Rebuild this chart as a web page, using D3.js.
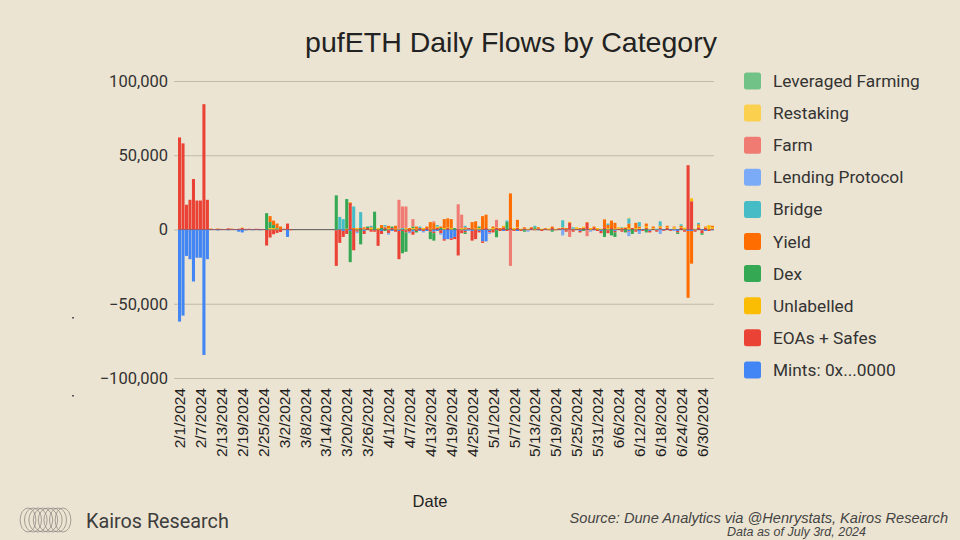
<!DOCTYPE html>
<html>
<head>
<meta charset="utf-8">
<script src="https://cdn.jsdelivr.net/npm/d3@7"></script>
<style>
  body { margin: 0; background: #ece4d2; }
  svg { display: block; }
</style>
</head>
<body>
<svg id="chart" width="960" height="540"></svg>
<script>
// daily flows, in thousands of pufETH, one line = one week starting 2/1/2024
var mints = [
  -62, -58, -17.8, -20, -35, -19, -19,
  -84.5, -20, -0.4, -0.3, -0.6, -0.3, -0.2,
  -0.5, -0.3, -0.4, -1.5, -2, -0.6, -0.3,
  -0.5, -0.3, -0.5, -0.2, -0.3, -0.4, -0.2,
  -0.3, -0.2, -0.3, -5, 0, 0, 0,
  0, 0, 0, 0, 0, 0, 0,
  0, 0, 0, -0.5, 0, -1, 0,
  -1, 0, -0.5, 0, -1, 0, 0,
  -0.5, 0, -1, 0, -0.5, -1, 0,
  -1, 0, -0.5, 0, -1.5, 0, -1,
  0, -1, 0, -1.5, -1, -0.5, -6.5,
  -6.5, -6, -5, 0, -0.5, -1, 0,
  -1, 0, -1, -8, -8, -1, 0,
  -0.5, 0, -1, 0, -0.5, 0, -1,
  0, -0.5, 0, -0.3, 0, -0.5, 0,
  -0.3, 0, -0.5, 0, -0.3, 0, -0.5,
  0, -0.5, 0, -1, 0, -0.5, 0,
  -0.5, 0, -1, 0, -0.5, 0, -1,
  0, -0.5, 0, -1, 0, -0.5, -1,
  -0.5, 0, -1, 0, -0.5, 0, -0.5,
  0, -0.5, 0, -1, 0, -0.5, -1,
  -1, -0.5, 0, -0.5, -1, 0, -0.5
];
var eoas = [
  62, 58, 16.7, 20, 34, 19.5, 19.5,
  84.4, 20, 0.5, 0.3, 0.6, 0.4, 0.3,
  0.8, 0.5, 0.3, 0.5, 1, 0.4, 0.5,
  0.3, 0.5, 0.4, 0.3, -10.5, -5, -3,
  -2, -1.5, 0.5, 4, -0.5, 0, 0,
  0, 0, 0, 0, 0, 0, 0,
  0, 0, 0, -24, -9, -4, -3,
  18, -14, -1, 1, -2, 1, -1.5,
  -1, -11, -2, 1.5, -2, 1, -1.5,
  -19, -1, -1.5, -1.5, -2, -1, 1,
  -1, 1, -1.5, -1, 1, -2, -1,
  1, -1, -1.5, -17.5, -2, -1, 1,
  -6.5, -6.5, -1, -1, 1, -1, -2,
  1, -1, 1.5, -1, 1, -1, 1,
  -1, 0.5, -0.5, 1, -0.5, 0.5, -1,
  0.5, -0.5, 1, -0.5, 0.5, 1, -1,
  4.7, -1, 0.5, -1, 1, 4.5, -0.5,
  1, -1, -1.5, 1.5, -2, 1, -1,
  0.5, -1, 1, -0.5, 1, -1, 0.5,
  -0.5, 1, -1, 0.5, -1, 1, -0.5,
  1, -0.5, 0.5, -1, 1, -1, 43.3,
  19, -1, 1.5, -2, 1, -1, 0.5
];
var unlabelled = [
  0, 0, 0, 0, 0, 0, 0,
  0, 0, 0.2, 0, 0.2, 0, 0,
  0, 0.2, 0, 0, 0.3, 0, 0,
  0, 0, 0, 0, 0, 1, 1,
  0.5, 0, 0, 0, 0, 0, 0,
  0, 0, 0, 0, 0, 0, 0,
  0, 0, 0, 0, 0, 0, 0.5,
  0.5, 0, 1, 0, 0.5, 0, 1,
  0, 1, 0, 0.5, 1, 0, 0.5,
  0.5, 0, 1, 0, 1, 0.5, 0,
  1, 0, 0.5, 0, 1, 0, 1,
  0.5, 1, 0, 0, 1, 0.5, 0,
  0, 0.5, 1, 0, 0, 0.5, 1,
  0.5, 0, 1, 0, 0, 1, 0.5,
  0.5, 0, 0.5, 0, 0.5, 0, 0.5,
  0, 0.5, 0, 0.5, 0, 0.5, 0,
  0.5, 0, 1, 0, 0.5, 0, 1,
  0, 1, 0.5, 0, 1, 0, 0.5,
  1, 0, 0.5, 1, 0, 1, 0.5,
  0, 1, 0, 0.5, 0, 1, 0,
  0.5, 0, 1, 0, 0.5, 1, 0,
  2, 0.5, 1, 0, 0.5, 3, 1
];
var dex = [
  0, 0, 0, 0, 0, 0, 0,
  0, 0, 0, 0, 0, 0, 0,
  0, 0, 0, 0, 0, 0, 0,
  0, 0, 0, 0, 11, 4, 2,
  0.5, 0, 0, 0, 0, 0, 0,
  0, 0, 0, 0, 0, 0, 0,
  0, 0, 0, 23, 0, 0, 20,
  -21, 0, 0, -10, 0, 1, 0,
  12, 0, 1, -1, 0, 1, 0,
  0, -15, -13, 0, 1, -1, 0,
  0, 0, -5, -5, 0, 1, 0,
  0, 0, 1, 0, 0, -1, 0,
  0, 0, 1, 0, 0, 0, 0,
  -4.7, 0, 0, 5, 0, 0, 0,
  0, -1, 0, 0, 1, 0, 0,
  0, 0, -1, 0, 0, 0, 0,
  0, 0, 0, 0, -1, 0, 0,
  0, 0, 0, -5, 0, -4, -3,
  0, 0, -2, 0, -3, 0, 0,
  0, -2, 0, 0, 0, 0, 0,
  0, 0, 0, -1, 0, 0, 0,
  0, 0, 0, -1, 0, 0, 0
];
var yieldFlows = [
  0, 0, 0, 0, 0, 0, 0,
  0, 0, 0, 0, 0, 0, 0,
  0, 0, 0, 0, 0, 0, 0,
  0, 0, 0, 0, 0, 4, 3,
  3, 2, 0, 0, 0, 0, 0,
  0, 0, 0, 0, 0, 0, 0,
  0, 0, 0, 0, 0, 0, 0,
  0, 1, 0, 0, 1, 0, 0.5,
  0, 0, 2, 0, 1.5, 0, 2,
  0, 0, 0, 1, 0, 1.5, 0,
  0, 1, 4.5, 4.5, 0, 1, 6,
  6, 6, 0, 0, 0, 1, 0,
  5, 5, 0, 9, 9, 0, 1,
  0, 1, 0, 0, 23.3, 0, 5,
  0, 1, 0, 0.5, 0, 1, 0,
  0.5, 0, 1, 0, 0.5, 0, 1,
  0, 0.5, 0, 1, 0, 0.5, 0,
  1, 0, 0, 5.3, 2, 5, 4,
  0, 1, 0, 3, 0, 3.5, 1,
  0, 2, 0, 1, 0, 0.5, 0,
  1, 0, 0.5, 0, 1, 0, -45,
  -22, 0, 1, 0, 0.5, 0, 1
];
var bridge = [
  0, 0, 0, 0, 0, 0, 0,
  0, 0, 0, 0, 0, 0, 0,
  0, 0, 0, 0, 0, 0, 0,
  0, 0, 0, 0, 0, 0, 0,
  0, 0, 0, 0, 0, 0, 0,
  0, 0, 0, 0, 0, 0, 0,
  0, 0, 0, 0, 8.5, 7, 0,
  0, 14.5, 0, 10.7, 0, 0, 1,
  0, 0, 0, 1, 0, 0, 0,
  0, 1, 0, 0, 0, 0, 1,
  0, 0, 0, 0, 1, 0, 0,
  0, 0, 0, 0, 0, 1, 0,
  0, 0, 0, 0, 0, 0, 0,
  0, 0, 0, 1, 0, 0, 0,
  0, 0, 0, 0, 1, 0, 0,
  0, 0, 0, 0, 0, 4.7, 0,
  0, 1, 0, 0, 0, 0, 0,
  0, 0, 0, 0, 1, 0, 0,
  0, 0, 0, 3.5, 0, 0, 3,
  0, 0, 0, 0, 0, 3, 0,
  0, 0, 0, 0, 1, 0, 0,
  0, 0, 1, 0, 0, 0, 0
];
var lending = [
  0, 0, 0, 0, 0, 0, 0,
  0, 0, 0, 0, 0, 0, 0,
  0, 0, 0, 0, 0, 0, 0,
  0, 0, 0, 0, 0, 0, 0,
  0, 0, 0, 0, 0, 0, 0,
  0, 0, 0, 0, 0, 0, 0,
  0, 0, 0, 0, 0, 0, 0,
  0, 0, -1, 0, 0, 0, 0,
  0, 0, 0, 0, -1, 0, 0,
  0, 0, 0, -1, 0, 0, 0,
  -1, 0, 0, 0, 0, -1, 0,
  0, 0, 0, 0, 0, 0, -1,
  0, 0, 0, 0, 0, -1, 0,
  0, 0, 0, 0, 0, 0, 0,
  0, 0, -1, 0, 0, 0, 0,
  0, 0, 0, 0, 0, -4, 0,
  0, 0, 0, 0, 0, 0, -1,
  0, 0, 0, 0, 0, 0, 0,
  0, 0, 0, -3, 0, 0, -2,
  0, 0, 0, 0, 0, -3, 0,
  0, 0, -1, 0, 0, 0, 0,
  0, 0, 0, 0, 0, 0, 0
];
var farm = [
  0, 0, 0, 0, 0, 0, 0,
  0, 0, 0, 0, 0, 0, 0,
  0, 0, 0, 0, 0, 0, 0,
  0, 0, 0, 0, 0, 0, 0,
  0, 0, 0, 0, 0, 0, 0,
  0, 0, 0, 0, 0, 0, 0,
  0, 0, 0, 0, 0, 0, 0,
  0, 0, 0, 0, 0, 0, 0,
  0, 0, 0, 0, 0, 0, 0,
  19.5, 14.5, 14.5, 0, 5, 0, 0,
  0, 0, 0, 1, 0, 0, 0,
  0, 0, 0, 17, 9, 0, 0,
  0, 0, 0, 0, 0, 0, 0,
  5, 0, 0, 0, -24, 0, 0,
  0, 0, 0, 0, 0, 0, 0,
  0, 0, 0, 0, 0, 0, 0,
  -5, 0, 0, 0, 0, -4, 0,
  0, 0, 0, 0, 0, 0, 0,
  0, 0, 0, 0, 0, 0, 0,
  0, 0, 0, 0, 0, 0, 0,
  0, 0, 0, 0, 0, 0, 0,
  0, 0, 0, 0, 0, 0, 0
];
var restaking = [
  0, 0, 0, 0, 0, 0, 0,
  0, 0, 0, 0, 0, 0, 0,
  0, 0, 0, 0, 0, 0, 0,
  0, 0, 0, 0, 0, 0, 0,
  0, 0, 0, 0, 0, 0, 0,
  0, 0, 0, 0, 0, 0, 0,
  0, 0, 0, 0, 0, 0, 0,
  0, 0, 0, 0, 0, 0, 0,
  0, 0, 0, 0, 0, 0, 0,
  0, 0, 0, 0, 0, 0, 0,
  0, 0, 0, 0, 0, 0, 0,
  0, 0, 0, 0, 0, 0, 0,
  0, 0, 0, 0, 0, 0, 0,
  0, 0, 0, 0, 0, 0, 0,
  0, 0, 0, 0, 0, 0, 0,
  0, 0.5, 0, 0, 0, 0, 0,
  0, 0, 0, 0, 0.5, 0, 0,
  0, 0, 0, 0, 0, 0, 0,
  0, 0, 0, 0.5, 0, 0, 0,
  0, 0, 0.5, 0, 0, 0, 0,
  0, 0, 0, 0, 0, 0.5, 0,
  0, 0, 0, 0, 0, 0, 0
];
var levFarming = [
  0, 0, 0, 0, 0, 0, 0,
  0, 0, 0, 0, 0, 0, 0,
  0, 0, 0, 0, 0, 0, 0,
  0, 0, 0, 0, 0, 0, 0,
  0, 0, 0, 0, 0, 0, 0,
  0, 0, 0, 0, 0, 0, 0,
  0, 0, 0, 0, 0, 0, 0,
  0, 0, 0, 0, 0, 0, 0,
  0, 0, 0, 0, 0, 0, 0,
  0, 0, 0, 0, 0, 0, 0,
  0, 0, 0, 0, 0, 0, 0,
  0, 0, 0, 0, 0, 0, 0,
  0, 0, 0, 0, 0, 0, 0,
  0, 0, 0, 0, 0, 0, 0,
  0, 0, 0, 0, 0, 0, 0,
  0, 0, 0, 0, 0, 0, 0,
  0, 0, 0, 0, 0, 0, 0,
  0, 0, 0, 0, 0, 0, 0,
  0, 0.5, 0, 0, 0, 0, 0,
  0, 0, 0, 0, 0.5, 0, 0,
  0, 0, 0, 0, 0, 0, 0,
  0, 0, 0, 0, 0, 0, 0
];

var categories = ["Mints: 0x...0000", "EOAs + Safes", "Unlabelled", "Dex", "Yield",
                  "Bridge", "Lending Protocol", "Farm", "Restaking", "Leveraged Farming"];
var seriesValues = [mints, eoas, unlabelled, dex, yieldFlows, bridge, lending, farm, restaking, levFarming];
var colors = ["#4285f4", "#ea4335", "#fbbc04", "#34a853", "#ff6d01",
              "#46bdc6", "#7baaf7", "#f07b72", "#fcd04f", "#71c287"];
var yTicks = [100000, 50000, 0, -50000, -100000];

var fmtDay = d3.timeFormat("%-m/%-d/%Y");
var days = d3.timeDay.range(new Date(2024, 1, 1), new Date(2024, 6, 4)).map(fmtDay);
var tickLabels = days.filter(function(d, i){ return i % 6 == 0 && i <= 150; });

var table = days.map(function(day, i){
    var row = {day: day};
    categories.forEach(function(c, j){ row[c] = seriesValues[j][i] * 1000; });
    return row;
});

var svg = d3.select("#chart");
svg.append("rect").attr("width", 960).attr("height", 540).attr("fill", "#ece4d2");

const x = d3.scaleBand()
    .domain(days)
    .range([178, 714])
    .paddingInner(0.12);

const y = d3.scaleLinear()
    .domain([-100000, 100000])
    .range([378, 81]);

const color = d3.scaleOrdinal().domain(categories).range(colors);

// title
svg.append("text")
    .attr("x", 511).attr("y", 52)
    .attr("text-anchor", "middle")
    .style("font-family", "'Liberation Sans', Arial, sans-serif")
    .style("font-size", "28.5px")
    .style("fill", "#222")
    .text("pufETH Daily Flows by Category");

// grid + y labels
const yAxis = d3.axisLeft(y)
    .tickValues(yTicks)
    .tickSize(540)
    .tickPadding(6)
    .tickFormat(d3.format(","));

svg.append("g")
    .attr("transform", "translate(714,0)")
    .call(yAxis)
    .call(function(g){
        g.select(".domain").remove();
        g.selectAll(".tick line").attr("stroke", "#c2baa8").attr("stroke-width", 1);
        g.selectAll(".tick text")
            .style("font-family", "Roboto, sans-serif")
            .style("font-size", "16.5px")
            .style("fill", "#333");
    });

// zero line
svg.append("line")
    .attr("x1", 178).attr("x2", 714)
    .attr("y1", y(0)).attr("y2", y(0))
    .attr("stroke", "#6b6b6b").attr("stroke-width", 1.2);

// stacked bars
const stack = d3.stack()
    .keys(categories)
    .offset(d3.stackOffsetDiverging);

svg.append("g")
    .selectAll("g")
    .data(stack(table))
    .enter().append("g")
    .attr("fill", function(d){ return color(d.key); })
    .selectAll("rect")
    .data(function(d){ return d; })
    .enter().append("rect")
    .attr("x", function(d){ return x(d.data.day); })
    .attr("width", x.bandwidth())
    .attr("y", function(d){ return y(Math.max(d[0], d[1])); })
    .attr("height", function(d){ return Math.abs(y(d[0]) - y(d[1])); });

// x labels
const xAxis = d3.axisBottom(x)
    .tickValues(tickLabels)
    .tickSize(0)
    .tickPadding(0);

svg.append("g")
    .attr("transform", "translate(0,388)")
    .call(xAxis)
    .call(function(g){
        g.select(".domain").remove();
        g.selectAll(".tick text")
            .attr("transform", "rotate(-90)")
            .attr("x", 0).attr("y", 0)
            .attr("dy", "0.36em")
            .attr("text-anchor", "end")
            .style("font-family", "'Liberation Sans', Arial, sans-serif")
            .style("font-size", "15.5px")
            .style("fill", "#1e1e1e");
    });

svg.append("text")
    .attr("x", 430).attr("y", 507)
    .attr("text-anchor", "middle")
    .style("font-family", "'Liberation Sans', Arial, sans-serif")
    .style("font-size", "16.5px")
    .style("fill", "#222")
    .text("Date");

// legend
const legend = svg.append("g")
    .selectAll("g")
    .data(categories.slice().reverse())
    .enter().append("g")
    .attr("transform", function(d, i){ return "translate(744," + (81 + i * 32.1) + ")"; });

legend.append("rect")
    .attr("x", 0).attr("y", -8.5)
    .attr("width", 17).attr("height", 17)
    .attr("rx", 2.5)
    .attr("fill", function(d){ return color(d); });

legend.append("text")
    .attr("x", 29).attr("y", 0)
    .attr("dy", "0.35em")
    .style("font-family", "Roboto, sans-serif")
    .style("font-size", "17.3px")
    .style("fill", "#333")
    .text(function(d){ return d; });

// stray marks at left
svg.append("rect").attr("x", 72).attr("y", 317).attr("width", 2).attr("height", 1.5).attr("fill", "#555");
svg.append("rect").attr("x", 72).attr("y", 395).attr("width", 2).attr("height", 1.5).attr("fill", "#555");

// Kairos logo
const logo = svg.append("g").attr("fill", "none").attr("stroke", "#8f8c86").attr("stroke-width", 0.8);
[28, 33, 38, 43, 48, 53, 58, 63].forEach(function(cx, i){
    logo.append("ellipse")
        .attr("cx", cx).attr("cy", 520)
        .attr("rx", 10 - Math.abs(i - 3.5) * 0.6).attr("ry", 12);
});

svg.append("text")
    .attr("x", 86).attr("y", 528)
    .style("font-family", "Roboto, sans-serif")
    .style("font-size", "19.8px")
    .style("fill", "#3d3d3d")
    .text("Kairos Research");

svg.append("text")
    .attr("x", 948).attr("y", 523)
    .attr("text-anchor", "end")
    .style("font-family", "'Liberation Sans', Arial, sans-serif")
    .style("font-style", "italic")
    .style("font-size", "14.6px")
    .style("fill", "#444")
    .text("Source: Dune Analytics via @Henrystats, Kairos Research");

svg.append("text")
    .attr("x", 866).attr("y", 536)
    .attr("text-anchor", "end")
    .style("font-family", "'Liberation Sans', Arial, sans-serif")
    .style("font-style", "italic")
    .style("font-size", "12.5px")
    .style("fill", "#444")
    .text("Data as of July 3rd, 2024");
</script>
</body>
</html>
